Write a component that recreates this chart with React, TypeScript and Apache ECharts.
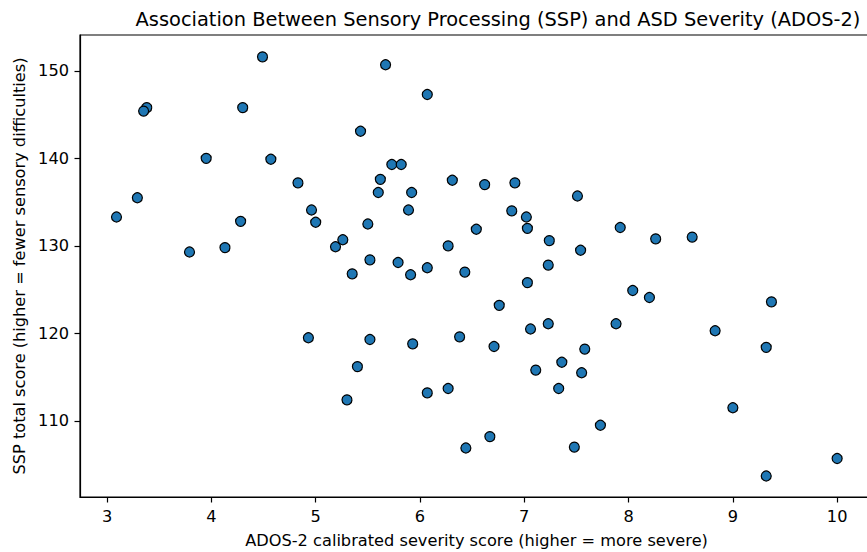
import React, { useEffect, useRef } from "react";
import * as echarts from "echarts";

const titleText = "Association Between Sensory Processing (SSP) and ASD Severity (ADOS-2)";
const xAxisTitle = "ADOS-2 calibrated severity score (higher = more severe)";
const yAxisTitle = "SSP total score (higher = fewer sensory difficulties)";

const xTicks = [3, 4, 5, 6, 7, 8, 9, 10];
const yTicks = [110, 120, 130, 140, 150];

// ADOS-2 calibrated severity score
const adosScores = [
  4.49, 3.38, 3.35, 4.3, 3.95, 4.57, 4.83, 3.29, 3.09, 4.96,
  5.0, 4.28, 4.13, 3.79, 5.19, 5.67, 6.07, 5.43, 5.73, 5.82,
  5.62, 6.31, 6.62, 6.91, 7.51, 5.6, 5.92, 5.89, 6.88, 7.02,
  7.03, 5.5, 6.54, 5.26, 6.27, 7.24, 7.54, 5.52, 5.79, 6.07,
  7.23, 7.92, 8.26, 8.61, 5.35, 5.91, 6.43, 7.03, 6.76, 5.52,
  5.93, 6.38, 6.71, 7.06, 7.23, 7.58, 5.4, 7.11, 7.36, 7.55,
  5.3, 6.07, 6.27, 7.33, 6.67, 6.44, 7.48, 4.93, 8.04, 8.2,
  9.37, 7.88, 8.83, 9.32, 9.0, 7.73, 10.0, 9.32,
];

// SSP total score
const sspScores = [
  151.6, 145.8, 145.4, 145.8, 140.0, 139.9, 137.2, 135.5, 133.3, 134.1,
  132.7, 132.8, 129.8, 129.3, 129.9, 150.7, 147.3, 143.1, 139.3, 139.3,
  137.6, 137.5, 137.0, 137.2, 135.7, 136.1, 136.1, 134.1, 134.0, 133.3,
  132.0, 132.5, 131.9, 130.7, 130.0, 130.6, 129.5, 128.4, 128.1, 127.5,
  127.8, 132.1, 130.8, 131.0, 126.8, 126.7, 127.0, 125.8, 123.2, 119.3,
  118.8, 119.6, 118.5, 120.5, 121.1, 118.2, 116.2, 115.8, 116.7, 115.5,
  112.4, 113.2, 113.7, 113.7, 108.2, 106.9, 107.0, 119.5, 124.9, 124.1,
  123.6, 121.1, 120.3, 118.4, 111.5, 109.5, 105.7, 103.7,
];

// axis limits (the plot frame continues past the right edge of the picture)
const xLimits = [2.74, 10.345];
const yLimits = [101.3, 154.1];

export default function App() {
  const ref = useRef<HTMLDivElement>(null);

  useEffect(() => {
    if (!ref.current) return;
    const chart = echarts.init(ref.current, undefined, { renderer: "svg" });

    const font = "DejaVu Sans";
    const gridLeft = 80;
    const gridTop = 35;
    const pxPerUnit = 104.29;
    const gridWidth = (xLimits[1] - xLimits[0]) * pxPerUnit;
    const gridHeight = 462;
    const labelSize = 16.2;

    chart.setOption({
      animation: false,
      backgroundColor: "#ffffff",
      textStyle: { fontFamily: font },
      graphic: [
        {
          type: "text",
          x: 498,
          y: 19,
          style: {
            text: titleText,
            fontFamily: font,
            fontSize: 19.4,
            fill: "#000",
            textAlign: "center",
            textVerticalAlign: "middle",
          },
        },
      ],
      grid: {
        left: gridLeft,
        top: gridTop,
        width: gridWidth,
        height: gridHeight,
        outerBoundsMode: "none",
        containLabel: false,
        show: true,
        borderColor: "#000",
        borderWidth: 1.2,
        backgroundColor: "transparent",
      },
      xAxis: {
        type: "value",
        min: xLimits[0],
        max: xLimits[1],
        name: xAxisTitle,
        nameLocation: "middle",
        nameGap: 35,
        nameTextStyle: { fontFamily: font, fontSize: labelSize, color: "#000" },
        axisLine: { show: true, lineStyle: { color: "#000", width: 1.2 } },
        axisTick: {
          show: true,
          inside: false,
          length: 5.5,
          lineStyle: { color: "#000", width: 1.2 },
          customValues: xTicks,
        },
        axisLabel: {
          margin: 11,
          fontFamily: font,
          fontSize: labelSize,
          color: "#000",
          customValues: xTicks,
        },
        splitLine: { show: false },
      },
      yAxis: {
        type: "value",
        min: yLimits[0],
        max: yLimits[1],
        name: yAxisTitle,
        nameLocation: "middle",
        nameGap: 53,
        nameRotate: 90,
        nameTextStyle: { fontFamily: font, fontSize: labelSize, color: "#000" },
        axisLine: { show: true, lineStyle: { color: "#000", width: 1.2 } },
        axisTick: {
          show: true,
          inside: false,
          length: 5.5,
          lineStyle: { color: "#000", width: 1.2 },
          customValues: yTicks,
        },
        axisLabel: {
          margin: 11,
          fontFamily: font,
          fontSize: labelSize,
          color: "#000",
          customValues: yTicks,
        },
        splitLine: { show: false },
      },
      series: [
        {
          type: "scatter",
          data: adosScores.map((x, i) => [x, sspScores[i]]),
          symbol: "circle",
          symbolSize: 10,
          itemStyle: {
            color: "#1f77b4",
            borderColor: "#000",
            borderWidth: 1.2,
            opacity: 1,
          },
        },
      ],
    });

    return () => chart.dispose();
  }, []);

  return (
    <div
      ref={ref}
      style={{
        position: "absolute",
        left: 0,
        top: 0,
        width: 867,
        height: 552,
        background: "#fff",
      }}
    />
  );
}
